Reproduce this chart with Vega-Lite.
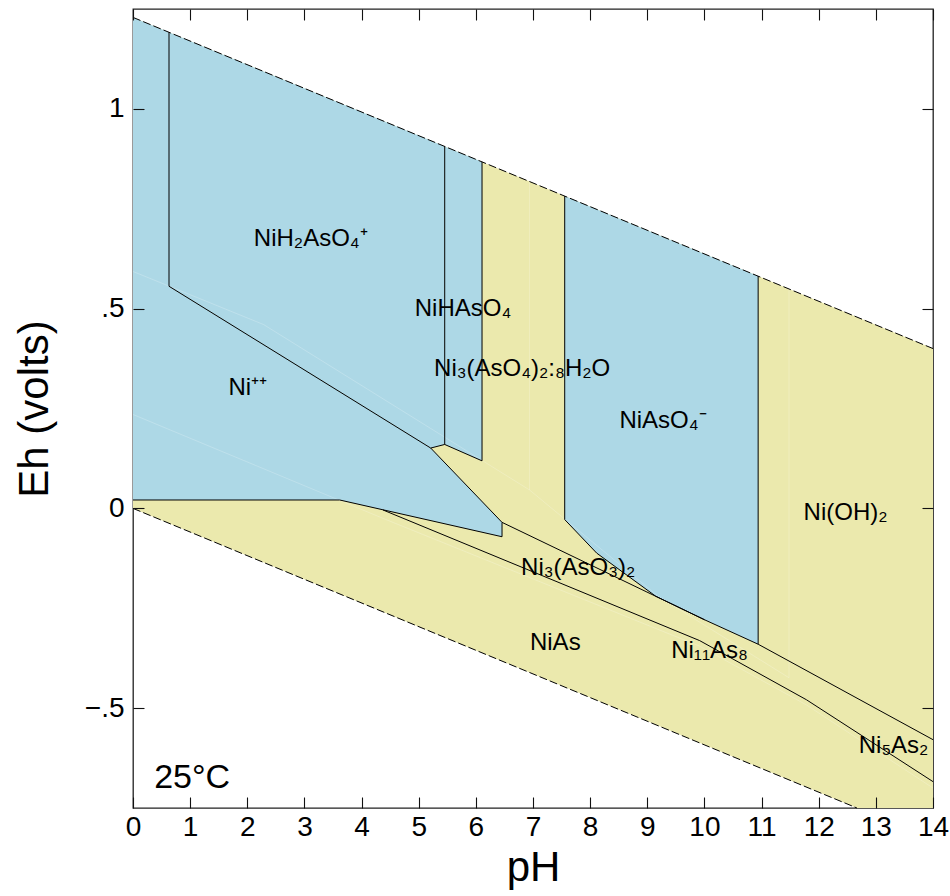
{
  "$schema": "https://vega.github.io/schema/vega-lite/v6.json",
  "width": 800,
  "height": 799,
  "autosize": "none",
  "padding": {"left": 133, "top": 9, "right": 17, "bottom": 88},
  "background": "white",
  "config": {
    "view": {"stroke": "#222", "strokeWidth": 1.3},
    "font": "Liberation Sans",
    "axis": {"grid": false, "domain": false, "zindex": 2, "tickColor": "#111", "tickWidth": 1.1, "labelColor": "black", "titleColor": "black", "labelFont": "Liberation Sans", "titleFont": "Liberation Sans", "titleFontWeight": "normal", "labelFontSize": 28, "titleFontSize": 42}
  },
  "datasets": {
    "water": [
      {"i": 0, "pH": 0, "lo": 0, "hi": 1.229},
      {"i": 1, "pH": 12.669, "lo": -0.75, "hi": 0.479},
      {"i": 2, "pH": 14, "lo": -0.75, "hi": 0.4}
    ],
    "regions": [
      {"r": "Ni++", "i": 0, "pH": 0, "lo": 0.021, "hi": 1.229},
      {"r": "Ni++", "i": 1, "pH": 0.63, "lo": 0.021, "hi": 1.1917},
      {"r": "Ni++", "i": 2, "pH": 0.63, "lo": 0.021, "hi": 0.556},
      {"r": "Ni++", "i": 3, "pH": 3.617, "lo": 0.021, "hi": 0.292},
      {"r": "Ni++", "i": 4, "pH": 5.21, "lo": -0.0306, "hi": 0.151},
      {"r": "Ni++", "i": 5, "pH": 6.458, "lo": -0.071, "hi": -0.035},
      {"r": "NiH2AsO4+", "i": 0, "pH": 0.63, "lo": 0.556, "hi": 1.1917},
      {"r": "NiH2AsO4+", "i": 1, "pH": 5.21, "lo": 0.151, "hi": 0.9206},
      {"r": "NiH2AsO4+", "i": 2, "pH": 5.455, "lo": 0.16, "hi": 0.9061},
      {"r": "NiHAsO4", "i": 0, "pH": 5.455, "lo": 0.16, "hi": 0.9061},
      {"r": "NiHAsO4", "i": 1, "pH": 6.108, "lo": 0.119, "hi": 0.8674},
      {"r": "NiAsO4-", "i": 0, "pH": 7.555, "lo": -0.028, "hi": 0.7817},
      {"r": "NiAsO4-", "i": 1, "pH": 8.115, "lo": -0.112, "hi": 0.7486},
      {"r": "NiAsO4-", "i": 2, "pH": 9.148, "lo": -0.22, "hi": 0.6874},
      {"r": "NiAsO4-", "i": 3, "pH": 10.005, "lo": -0.279, "hi": 0.6367},
      {"r": "NiAsO4-", "i": 4, "pH": 10.94, "lo": -0.34, "hi": 0.5814}
    ],
    "bounds": [
      {"s": "V1", "i": 0, "pH": 0.63, "Eh": 1.1917},
      {"s": "V1", "i": 1, "pH": 0.63, "Eh": 0.556},
      {"s": "D1", "i": 0, "pH": 0.63, "Eh": 0.556},
      {"s": "D1", "i": 1, "pH": 5.21, "Eh": 0.151},
      {"s": "S", "i": 0, "pH": 5.21, "Eh": 0.151},
      {"s": "S", "i": 1, "pH": 5.455, "Eh": 0.16},
      {"s": "S", "i": 2, "pH": 6.108, "Eh": 0.119},
      {"s": "V2", "i": 0, "pH": 5.455, "Eh": 0.16},
      {"s": "V2", "i": 1, "pH": 5.455, "Eh": 0.9061},
      {"s": "V3", "i": 0, "pH": 6.108, "Eh": 0.119},
      {"s": "V3", "i": 1, "pH": 6.108, "Eh": 0.8674},
      {"s": "D2", "i": 0, "pH": 5.21, "Eh": 0.151},
      {"s": "D2", "i": 1, "pH": 6.458, "Eh": -0.035},
      {"s": "V4", "i": 0, "pH": 6.458, "Eh": -0.035},
      {"s": "V4", "i": 1, "pH": 6.458, "Eh": -0.071},
      {"s": "A", "i": 0, "pH": 0, "Eh": 0.021},
      {"s": "A", "i": 1, "pH": 3.617, "Eh": 0.021},
      {"s": "A", "i": 2, "pH": 6.458, "Eh": -0.071},
      {"s": "B", "i": 0, "pH": 4.375, "Eh": -0.004},
      {"s": "B", "i": 1, "pH": 9.917, "Eh": -0.331},
      {"s": "B", "i": 2, "pH": 11.785, "Eh": -0.479},
      {"s": "B", "i": 3, "pH": 14, "Eh": -0.684},
      {"s": "C", "i": 0, "pH": 6.458, "Eh": -0.035},
      {"s": "C", "i": 1, "pH": 10.005, "Eh": -0.279},
      {"s": "C", "i": 2, "pH": 10.94, "Eh": -0.34},
      {"s": "C", "i": 3, "pH": 14, "Eh": -0.579},
      {"s": "E", "i": 0, "pH": 7.555, "Eh": -0.028},
      {"s": "E", "i": 1, "pH": 8.115, "Eh": -0.112},
      {"s": "E", "i": 2, "pH": 9.148, "Eh": -0.22},
      {"s": "E", "i": 3, "pH": 10.005, "Eh": -0.279},
      {"s": "V5", "i": 0, "pH": 7.555, "Eh": -0.028},
      {"s": "V5", "i": 1, "pH": 7.555, "Eh": 0.7817},
      {"s": "V6", "i": 0, "pH": 10.94, "Eh": -0.34},
      {"s": "V6", "i": 1, "pH": 10.94, "Eh": 0.5814}
    ],
    "faint": [
      {"s": "F1", "i": 0, "pH": 0, "Eh": 0.593},
      {"s": "F1", "i": 1, "pH": 2.287, "Eh": 0.46},
      {"s": "F1", "i": 2, "pH": 5.21, "Eh": 0.2},
      {"s": "F1", "i": 3, "pH": 6.94, "Eh": 0.046},
      {"s": "F1", "i": 4, "pH": 9.2, "Eh": -0.221},
      {"s": "F1", "i": 5, "pH": 11.48, "Eh": -0.424},
      {"s": "F2", "i": 0, "pH": 0, "Eh": 0.235},
      {"s": "F2", "i": 1, "pH": 4.375, "Eh": -0.025},
      {"s": "F2", "i": 2, "pH": 9.917, "Eh": -0.345},
      {"s": "F2", "i": 3, "pH": 11.785, "Eh": -0.492},
      {"s": "F2", "i": 4, "pH": 14, "Eh": -0.7},
      {"s": "G1", "i": 0, "pH": 6.94, "Eh": 0.046},
      {"s": "G1", "i": 1, "pH": 6.94, "Eh": 0.818},
      {"s": "G2", "i": 0, "pH": 11.48, "Eh": -0.424},
      {"s": "G2", "i": 1, "pH": 11.48, "Eh": 0.549}
    ],
    "wlines": [
      {"s": "O2", "i": 0, "pH": 0, "Eh": 1.229},
      {"s": "O2", "i": 1, "pH": 14, "Eh": 0.4},
      {"s": "H2", "i": 0, "pH": 0, "Eh": 0},
      {"s": "H2", "i": 1, "pH": 12.669, "Eh": -0.75}
    ],
    "labels": [
      {"name": "NiH₂AsO₄⁺", "pH": 3.11, "Eh": 0.656},
      {"name": "Ni⁺⁺", "pH": 2.01, "Eh": 0.285},
      {"name": "NiHAsO₄", "pH": 5.775, "Eh": 0.481},
      {"name": "Ni₃(AsO₄)₂:₈H₂O", "pH": 6.81, "Eh": 0.3305},
      {"name": "NiAsO₄⁻", "pH": 9.275, "Eh": 0.201},
      {"name": "Ni(OH)₂", "pH": 12.47, "Eh": -0.028},
      {"name": "Ni₃(AsO₃)₂", "pH": 7.79, "Eh": -0.166},
      {"name": "NiAs", "pH": 7.39, "Eh": -0.354},
      {"name": "Ni₁₁As₈", "pH": 10.09, "Eh": -0.375},
      {"name": "Ni₅As₂", "pH": 13.31, "Eh": -0.612}
    ],
    "temp": [
      {"name": "25°C", "pH": 0.37, "Eh": -0.7}
    ]
  },
  "layer": [
    {
      "data": {"name": "water"},
      "mark": {"type": "area", "fill": "#EBE9AD", "stroke": null},
      "encoding": {
        "x": {"field": "pH", "type": "quantitative", "scale": {"domain": [0, 14], "nice": false, "zero": false},
          "axis": {"orient": "bottom", "values": [0,1,2,3,4,5,6,7,8,9,10,11,12,13,14], "tickSize": -11, "labelPadding": 16, "title": "pH", "titlePadding": 6, "labelFlush": false, "labelOverlap": false, "zindex": 2}},
        "y": {"field": "hi", "type": "quantitative", "scale": {"domain": [-0.75, 1.25], "nice": false, "zero": false},
          "axis": {"orient": "left", "values": [-0.5, 0, 0.5, 1], "labelExpr": "datum.value == 0 ? '0' : datum.value == 1 ? '1' : datum.value == 0.5 ? '.5' : '−.5'", "tickSize": -11, "labelPadding": 20, "title": "Eh (volts)", "titlePadding": 28, "labelFlush": false, "zindex": 2}},
        "y2": {"field": "lo"}
      }
    },
    {
      "data": {"name": "regions"},
      "mark": {"type": "area", "fill": "#ADD8E6", "stroke": null},
      "encoding": {
        "x": {"field": "pH", "type": "quantitative", "scale": {"domain": [0, 14], "nice": false, "zero": false}, "axis": null},
        "y": {"field": "hi", "type": "quantitative", "scale": {"domain": [-0.75, 1.25], "nice": false, "zero": false}, "axis": null},
        "y2": {"field": "lo"},
        "detail": {"field": "r", "type": "nominal"}
      }
    },
    {
      "data": {"name": "faint"},
      "mark": {"type": "line", "color": "white", "strokeWidth": 0.7, "opacity": 0.3},
      "encoding": {
        "x": {"field": "pH", "type": "quantitative", "scale": {"domain": [0, 14], "nice": false, "zero": false}, "axis": null},
        "y": {"field": "Eh", "type": "quantitative", "scale": {"domain": [-0.75, 1.25], "nice": false, "zero": false}, "axis": null},
        "detail": {"field": "s", "type": "nominal"},
        "order": {"field": "i", "type": "quantitative"}
      }
    },
    {
      "data": {"name": "bounds"},
      "mark": {"type": "line", "color": "black", "strokeWidth": 1},
      "encoding": {
        "x": {"field": "pH", "type": "quantitative", "scale": {"domain": [0, 14], "nice": false, "zero": false}, "axis": null},
        "y": {"field": "Eh", "type": "quantitative", "scale": {"domain": [-0.75, 1.25], "nice": false, "zero": false}, "axis": null},
        "detail": {"field": "s", "type": "nominal"},
        "order": {"field": "i", "type": "quantitative"}
      }
    },
    {
      "data": {"name": "wlines"},
      "mark": {"type": "line", "color": "black", "strokeWidth": 1, "strokeDash": [8, 3]},
      "encoding": {
        "x": {"field": "pH", "type": "quantitative", "scale": {"domain": [0, 14], "nice": false, "zero": false},
          "axis": {"orient": "top", "values": [0,1,2,3,4,5,6,7,8,9,10,11,12,13,14], "tickSize": -11, "labels": false, "title": null, "zindex": 2}},
        "y": {"field": "Eh", "type": "quantitative", "scale": {"domain": [-0.75, 1.25], "nice": false, "zero": false},
          "axis": {"orient": "right", "values": [-0.5, 0, 0.5, 1], "tickSize": -11, "labels": false, "title": null, "zindex": 2}},
        "detail": {"field": "s", "type": "nominal"},
        "order": {"field": "i", "type": "quantitative"}
      }
    },
    {
      "data": {"name": "labels"},
      "mark": {"type": "text", "fontSize": 24, "font": "Liberation Sans", "align": "center", "baseline": "alphabetic", "color": "black"},
      "encoding": {
        "x": {"field": "pH", "type": "quantitative", "scale": {"domain": [0, 14], "nice": false, "zero": false}, "axis": null},
        "y": {"field": "Eh", "type": "quantitative", "scale": {"domain": [-0.75, 1.25], "nice": false, "zero": false}, "axis": null},
        "text": {"field": "name", "type": "nominal"}
      }
    },
    {
      "data": {"name": "temp"},
      "mark": {"type": "text", "fontSize": 34, "font": "Liberation Sans", "align": "left", "baseline": "alphabetic", "color": "black"},
      "encoding": {
        "x": {"field": "pH", "type": "quantitative", "scale": {"domain": [0, 14], "nice": false, "zero": false}, "axis": null},
        "y": {"field": "Eh", "type": "quantitative", "scale": {"domain": [-0.75, 1.25], "nice": false, "zero": false}, "axis": null},
        "text": {"field": "name", "type": "nominal"}
      }
    }
  ],
  "resolve": {"axis": {"x": "independent", "y": "independent"}}
}
